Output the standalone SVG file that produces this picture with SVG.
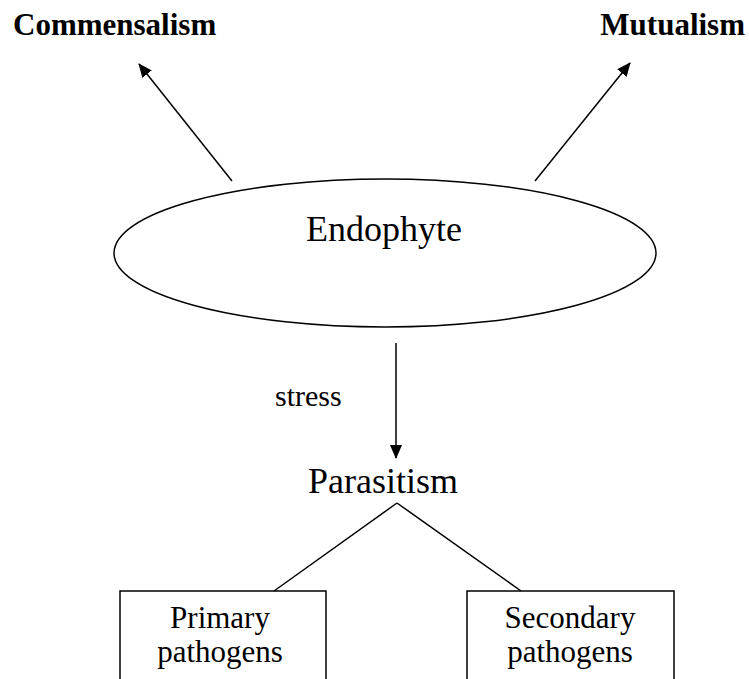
<svg xmlns="http://www.w3.org/2000/svg" width="749" height="679" viewBox="0 0 749 679">
<defs>
<marker id="ah" markerWidth="14" markerHeight="12" refX="13" refY="6" orient="auto" markerUnits="userSpaceOnUse" viewBox="0 0 14 12">
<path d="M0,0 L14,6 L0,12 z" fill="#000"/>
</marker>
<style>
text{font-family:"Liberation Serif","Times New Roman",serif;fill:#000}
.b{font-weight:bold;font-size:31px}
.big{font-size:36px}
.med{font-size:31px}
.sm{font-size:30px}
.ln{stroke:#000;stroke-width:1.5;fill:none}
</style>
</defs>
<rect width="749" height="679" fill="#fff"/>
<g id="commensalism"><text class="b" x="13" y="35">Commensalism</text></g>
<g id="mutualism"><text class="b" x="745" y="35" text-anchor="end">Mutualism</text></g>
<g id="endophyte">
<ellipse cx="385" cy="253" rx="271" ry="74" class="ln"/>
<text class="big" x="384" y="241" text-anchor="middle">Endophyte</text>
</g>
<g id="parasitism"><text class="big" x="383" y="493" text-anchor="middle">Parasitism</text></g>
<g id="primary">
<path class="ln" d="M120,680 V591 H326 V680"/>
<text class="med" x="220" y="628" text-anchor="middle">Primary</text>
<text class="med" x="220" y="662" text-anchor="middle">pathogens</text>
</g>
<g id="secondary">
<path class="ln" d="M467,680 V591 H674 V680"/>
<text class="med" x="570" y="628" text-anchor="middle">Secondary</text>
<text class="med" x="570" y="662" text-anchor="middle">pathogens</text>
</g>
<g id="connectors">
<line class="ln" x1="232" y1="181" x2="139" y2="64" marker-end="url(#ah)"/>
<line class="ln" x1="535" y1="181" x2="630" y2="63" marker-end="url(#ah)"/>
<line class="ln" x1="396" y1="343" x2="396" y2="458" marker-end="url(#ah)"/>
<text class="sm" x="275" y="406">stress</text>
<line class="ln" x1="397" y1="503" x2="274" y2="591"/>
<line class="ln" x1="397" y1="503" x2="521" y2="591"/>
</g>
</svg>
